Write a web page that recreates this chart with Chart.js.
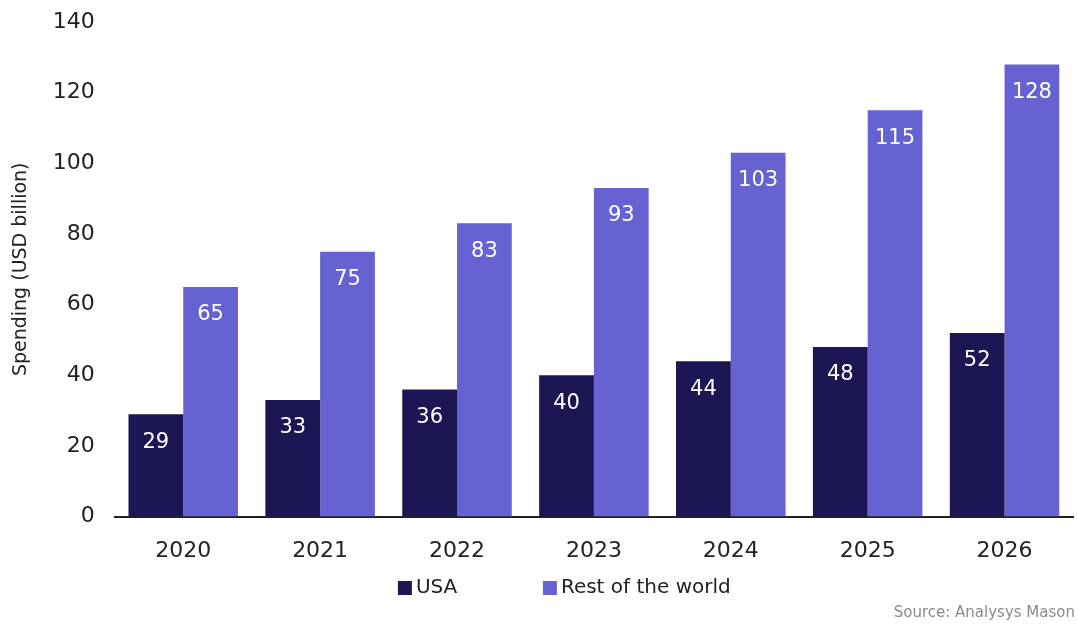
<!DOCTYPE html>
<html>
<head>
<meta charset="utf-8">
<script src="https://cdn.jsdelivr.net/npm/chart.js@4"></script>
<style>
  html, body { margin: 0; padding: 0; background: #fff; }
  #wrap { width: 1078px; height: 624px; }
</style>
</head>
<body>
<div id="wrap"><canvas id="myChart"></canvas></div>
<script>
// dados do gráfico
const anos = ['2020', '2021', '2022', '2023', '2024', '2025', '2026'];
const gastoEUA = [29, 33, 36, 40, 44, 48, 52];
const gastoResto = [65, 75, 83, 93, 103, 115, 128];
const nomesSeries = ['USA', 'Rest of the world'];
const coresSeries = ['#1c1654', '#6762d1'];
const fonte = 'Source: Analysys Mason';

const familia = '"DejaVu Sans", sans-serif';

// rótulos brancos dentro das barras
const rotulosBarras = {
  id: 'rotulosBarras',
  afterDatasetsDraw(chart) {
    const ctx = chart.ctx;
    ctx.save();
    ctx.fillStyle = '#ffffff';
    ctx.font = '21px ' + familia;
    ctx.textAlign = 'center';
    ctx.textBaseline = 'middle';
    chart.data.datasets.forEach((ds, i) => {
      chart.getDatasetMeta(i).data.forEach((bar, j) => {
        ctx.fillText(String(ds.data[j]), bar.x, bar.y + 28);
      });
    });
    ctx.restore();
  }
};

// legenda e fonte desenhadas à mão (espaçamento do original)
const legendaFonte = {
  id: 'legendaFonte',
  afterDraw(chart) {
    const ctx = chart.ctx;
    const area = chart.chartArea;
    const centro = (area.left + area.right) / 2;
    const posX = [centro - 196, centro - 51];
    const y = 588;
    ctx.save();
    ctx.font = '20px ' + familia;
    ctx.textBaseline = 'middle';
    ctx.textAlign = 'left';
    nomesSeries.forEach((nome, i) => {
      ctx.fillStyle = coresSeries[i];
      ctx.fillRect(posX[i], y - 7, 14, 14);
      ctx.fillStyle = '#222222';
      ctx.fillText(nome, posX[i] + 18, y);
    });
    ctx.font = '15px ' + familia;
    ctx.fillStyle = '#8a8a8a';
    ctx.textAlign = 'right';
    ctx.fillText(fonte, chart.width - 3, 613);
    ctx.restore();
  }
};

new Chart(document.getElementById('myChart'), {
  type: 'bar',
  data: {
    labels: anos,
    datasets: [
      { label: nomesSeries[0], data: gastoEUA, backgroundColor: coresSeries[0] },
      { label: nomesSeries[1], data: gastoResto, backgroundColor: coresSeries[1] }
    ]
  },
  options: {
    responsive: true,
    maintainAspectRatio: false,
    animation: false,
    categoryPercentage: 0.8,
    barPercentage: 1.0,
    layout: { padding: { top: 22, right: 5, bottom: 39, left: 10 } },
    plugins: {
      legend: { display: false },
      tooltip: { enabled: false }
    },
    scales: {
      x: {
        grid: { display: false, drawTicks: false },
        border: { display: true, color: '#222222', width: 2 },
        ticks: { color: '#222222', font: { family: familia, size: 22 }, padding: 21 }
      },
      y: {
        min: 0,
        max: 140,
        // o padding dos ticks empurrava o topo para baixo
        afterFit: (escala) => { escala.paddingTop = 0; },
        grid: { display: false, drawTicks: false },
        border: { display: false },
        ticks: { stepSize: 20, color: '#222222', font: { family: familia, size: 22 }, padding: 20 },
        title: {
          display: true,
          text: 'Spending (USD billion)',
          color: '#222222',
          font: { family: familia, size: 19 },
          padding: { top: 0, bottom: 0 }
        }
      }
    }
  },
  plugins: [rotulosBarras, legendaFonte]
});
</script>
</body>
</html>
